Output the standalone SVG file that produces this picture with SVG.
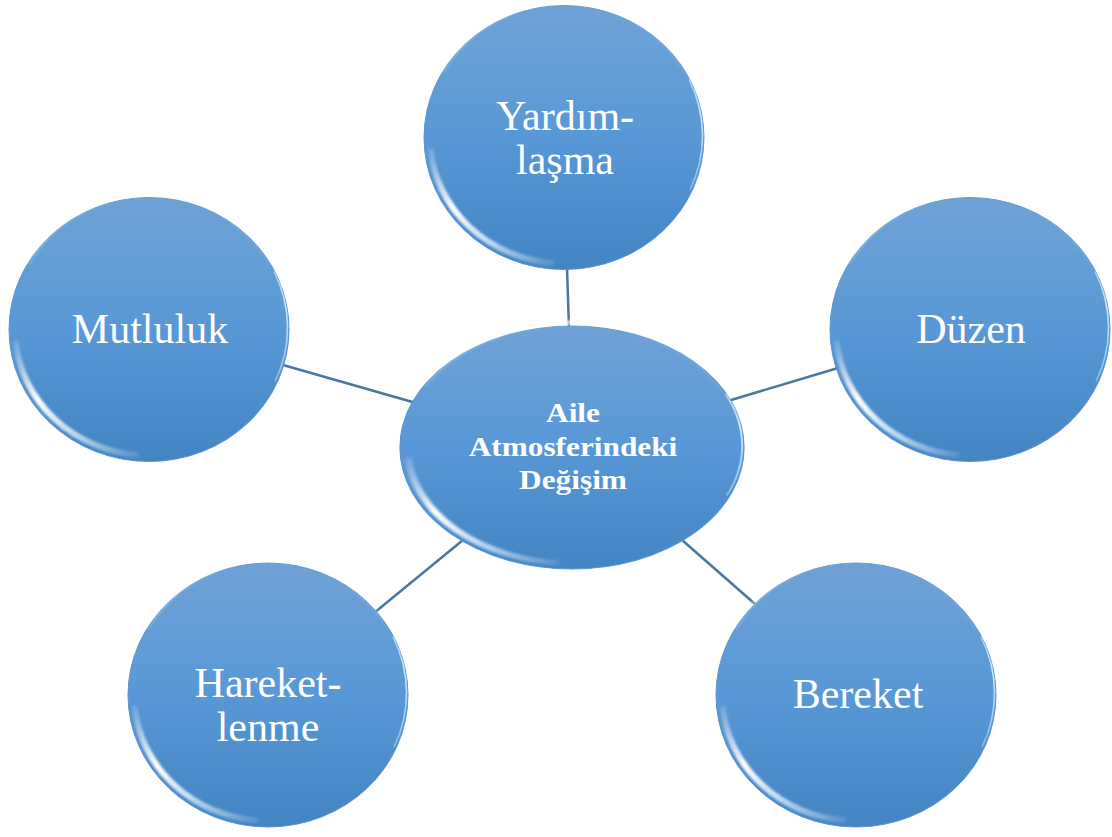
<svg xmlns="http://www.w3.org/2000/svg" xmlns:xlink="http://www.w3.org/1999/xlink" width="1112" height="837" viewBox="0 0 1112 837">
  <defs>
    <style>
      .conn { stroke: #4a76a0; stroke-width: 2.5; fill: none; stroke-linecap: round; }
      .lbl { font-family: "Liberation Serif", "Times New Roman", serif; font-size: 42px; fill: #ffffff; text-anchor: middle; }
      .clbl { font-family: "Liberation Serif", "Times New Roman", serif; font-size: 27px; font-weight: bold; fill: #ffffff; text-anchor: middle; }
    </style>
    <linearGradient id="fillGrad" x1="0" y1="0" x2="0" y2="1">
      <stop offset="0" stop-color="#6fa2d6"/>
      <stop offset="0.5" stop-color="#5898d6"/>
      <stop offset="1" stop-color="#4384c3"/>
    </linearGradient>
    <linearGradient id="topHi" gradientUnits="userSpaceOnUse" x1="-130" y1="0" x2="130" y2="0">
      <stop offset="0" stop-color="#ffffff" stop-opacity="0"/>
      <stop offset="0.3" stop-color="#ffffff" stop-opacity="0.85"/>
      <stop offset="0.6" stop-color="#ffffff" stop-opacity="0.55"/>
      <stop offset="1" stop-color="#ffffff" stop-opacity="0"/>
    </linearGradient>
    <linearGradient id="lowHi" gradientUnits="userSpaceOnUse" x1="-135" y1="0" x2="0" y2="130">
      <stop offset="0" stop-color="#ffffff" stop-opacity="0"/>
      <stop offset="0.35" stop-color="#ffffff" stop-opacity="1"/>
      <stop offset="0.6" stop-color="#e8f6ff" stop-opacity="0.75"/>
      <stop offset="1" stop-color="#ffffff" stop-opacity="0"/>
    </linearGradient>
    <linearGradient id="rimHi" gradientUnits="userSpaceOnUse" x1="0" y1="-120" x2="0" y2="120">
      <stop offset="0" stop-color="#d8f0ff" stop-opacity="0"/>
      <stop offset="0.4" stop-color="#d8f0ff" stop-opacity="0.9"/>
      <stop offset="1" stop-color="#d8f0ff" stop-opacity="0"/>
    </linearGradient>
    <filter id="soft" x="-20%" y="-20%" width="140%" height="140%">
      <feGaussianBlur stdDeviation="1.1"/>
    </filter>
    <g id="bubble">
      <ellipse rx="140" ry="132" fill="url(#fillGrad)" stroke="#5b95cf" stroke-width="1"/>
      <path d="M -121.2 -66 A 136 128 0 0 1 121.2 -66" fill="none" stroke="url(#topHi)" stroke-width="5" filter="url(#soft)"/>
      <path d="M -133.5 11 A 134 126 0 0 0 -10 125.6" fill="none" stroke="url(#lowHi)" stroke-width="6" filter="url(#soft)"/>
      <path d="M 125 -58 A 137.5 129.5 0 0 1 126 52" fill="none" stroke="url(#rimHi)" stroke-width="1.6"/>
    </g>
  </defs>

  <rect width="1112" height="837" fill="#ffffff"/>

  <g id="connectors">
    <line class="conn" x1="567" y1="268" x2="569" y2="328"/>
    <line class="conn" x1="283" y1="365" x2="416" y2="403"/>
    <line class="conn" x1="838" y1="368" x2="731" y2="400"/>
    <line class="conn" x1="374" y1="613" x2="463" y2="540"/>
    <line class="conn" x1="755" y1="604" x2="682" y2="540"/>
  </g>

  <g id="node-yardimlasma">
    <use xlink:href="#bubble" transform="translate(564,137.5)"/>
    <text class="lbl" x="565" y="130">Yardım-</text>
    <text class="lbl" x="565" y="174">laşma</text>
  </g>

  <g id="node-mutluluk">
    <use xlink:href="#bubble" transform="translate(149,329.5)"/>
    <text class="lbl" x="150" y="343">Mutluluk</text>
  </g>

  <g id="node-duzen">
    <use xlink:href="#bubble" transform="translate(970,329.5)"/>
    <text class="lbl" x="971" y="343">Düzen</text>
  </g>

  <g id="node-hareketlenme">
    <use xlink:href="#bubble" transform="translate(268,695)"/>
    <text class="lbl" x="268" y="697">Hareket-</text>
    <text class="lbl" x="268" y="741">lenme</text>
  </g>

  <g id="node-bereket">
    <use xlink:href="#bubble" transform="translate(856,695)"/>
    <text class="lbl" x="858" y="708">Bereket</text>
  </g>

  <g id="node-center">
    <use xlink:href="#bubble" transform="translate(572,447.5) scale(1.2286,0.9205)"/>
    <g transform="translate(573,0) scale(1.16,1)">
      <text class="clbl" x="0" y="422">Aile</text>
      <text class="clbl" x="0" y="456">Atmosferindeki</text>
      <text class="clbl" x="0" y="489">Değişim</text>
    </g>
  </g>
</svg>
